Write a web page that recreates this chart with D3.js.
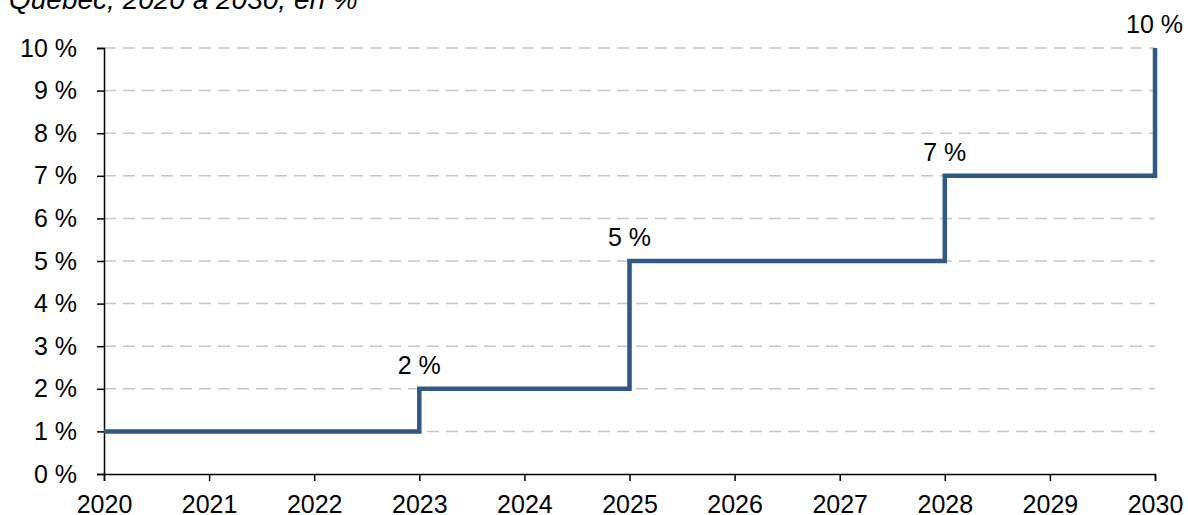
<!DOCTYPE html>
<html>
<head>
<meta charset="utf-8">
<script src="https://cdn.jsdelivr.net/npm/d3@7"></script>
<style>
  html, body { margin: 0; padding: 0; background: #fff; }
  svg { display: block; font-family: "Liberation Sans", Arial, sans-serif; }
</style>
</head>
<body>
<svg id="chart" width="1188" height="515"></svg>
<script>
// Annual rate, Québec, 2020 to 2030 (%)
const years = [2020, 2021, 2022, 2023, 2024, 2025, 2026, 2027, 2028, 2029, 2030];
const rates = [1, 1, 1, 2, 2, 5, 5, 5, 7, 7, 10];
const yTicks = [0, 1, 2, 3, 4, 5, 6, 7, 8, 9, 10];
const labelYears = [2023, 2025, 2028, 2030];
const subtitle = "Québec, 2020 à 2030, en %";

const svg = d3.select("#chart");
const margin = { left: 104, right: 33, top: 48, bottom: 41 };
const W = 1188, H = 515;
const FONT = 25;

const x = d3.scaleLinear().domain([2020, 2030]).range([margin.left, W - margin.right]);
const y = d3.scaleLinear().domain([0, 10]).range([H - margin.bottom, margin.top]);

// Subtitle, running off the top edge
svg.append("text")
  .attr("x", 9).attr("y", 9)
  .attr("font-size", 28).attr("font-style", "italic")
  .attr("fill", "#000")
  .text(subtitle);

// Dashed horizontal gridlines
svg.append("g")
  .selectAll("line")
  .data(yTicks.filter(d => d > 0))
  .join("line")
  .attr("x1", x(2020)).attr("x2", x(2030))
  .attr("y1", d => y(d)).attr("y2", d => y(d))
  .attr("stroke", "#c6c6c6").attr("stroke-width", 1.5)
  .attr("stroke-dasharray", "12,7");

// Y axis
const yAxis = svg.append("g")
  .attr("transform", `translate(${x(2020)},0)`)
  .call(d3.axisLeft(y).tickValues(yTicks).tickSize(7).tickPadding(20)
    .tickFormat(d => d + " %"));
yAxis.select(".domain").attr("stroke", "#000").attr("stroke-width", 1.5);
yAxis.selectAll(".tick line").attr("stroke", "#000").attr("stroke-width", 1.5);
yAxis.selectAll(".tick text").attr("font-size", FONT).attr("fill", "#000")
  .attr("font-family", "Liberation Sans, Arial, sans-serif");

// X axis
const xAxis = svg.append("g")
  .attr("transform", `translate(0,${y(0)})`)
  .call(d3.axisBottom(x).tickValues(years).tickSize(7).tickPadding(14)
    .tickFormat(d3.format("d")));
xAxis.select(".domain").attr("stroke", "#000").attr("stroke-width", 1.5);
xAxis.selectAll(".tick line").attr("stroke", "#000").attr("stroke-width", 1.5);
xAxis.selectAll(".tick text").attr("font-size", FONT).attr("fill", "#000")
  .attr("font-family", "Liberation Sans, Arial, sans-serif");

// Step line
const data = years.map((yr, i) => ({ year: yr, rate: rates[i] }));
const line = d3.line()
  .x(d => x(d.year)).y(d => y(d.rate))
  .curve(d3.curveStepAfter);
svg.append("path")
  .datum(data)
  .attr("d", line)
  .attr("fill", "none")
  .attr("stroke", "#2f5883")
  .attr("stroke-width", 4.5)
  .attr("stroke-linejoin", "miter");

// Value labels at each change
svg.append("g")
  .selectAll("text")
  .data(data.filter(d => labelYears.includes(d.year)))
  .join("text")
  .attr("x", d => x(d.year))
  .attr("y", d => y(d.rate) - 15)
  .attr("text-anchor", d => d.year === 2030 ? "end" : "middle")
  .attr("dx", d => d.year === 2030 ? 28 : 0)
  .attr("font-size", FONT).attr("fill", "#000")
  .text(d => d.rate + " %");
</script>
</body>
</html>
